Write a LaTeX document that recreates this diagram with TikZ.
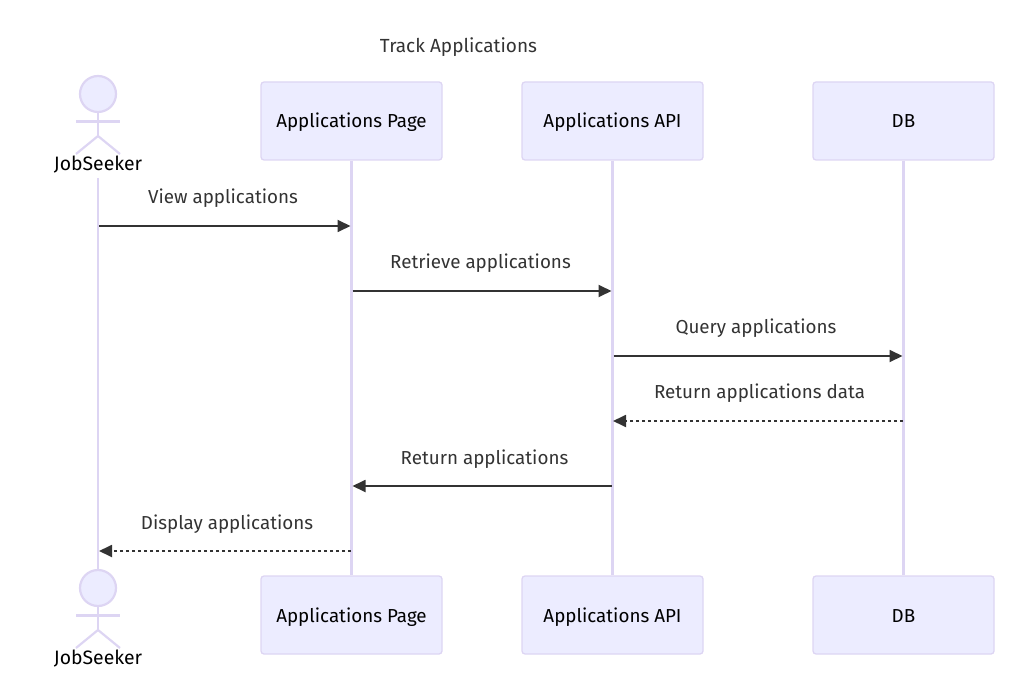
\documentclass[tikz,border=0pt]{standalone}
\usepackage{fontspec}
\setmainfont{Fira Sans}
\usetikzlibrary{arrows.meta}
\pgfdeclarelayer{lifelines}
\pgfsetlayers{lifelines,main}
\definecolor{lav}{HTML}{ECECFF}
\definecolor{lavline}{HTML}{DDD5F3}
\definecolor{ink}{HTML}{333333}
\tikzset{
  x=1pt,y=-1pt,
  box/.style={draw=lavline,fill=lav,line width=1.3pt,rounded corners=3pt,minimum width=181pt,minimum height=78pt,inner sep=0pt,font=\fontsize{18.8}{20}\selectfont,text=black,text height=18pt,text depth=4pt},
  life/.style={draw=lavline,line width=2.2pt},
  stick/.style={draw=lavline,line width=2.2pt},
  head/.style={circle,draw=lavline,fill=lav,line width=2.2pt,minimum size=36pt,inner sep=0pt},
  actorlabel/.style={font=\fontsize{19.4}{20}\selectfont,text=black,inner sep=0pt,text height=18pt,text depth=4pt},
  msg/.style={draw=ink,line width=1.8pt,-{Triangle[length=13pt,width=12pt]}},
  msgd/.style={msg,dash pattern=on 3.2pt off 2.8pt},
  msglabel/.style={font=\fontsize{18.8}{20}\selectfont,text=ink,inner sep=0pt,text height=18pt,text depth=4pt},
}
\begin{document}
\begin{tikzpicture}
\useasboundingbox (0,0) rectangle (1032,692);
\node[msglabel,font=\fontsize{19}{20}\selectfont] (title) at (458.5,45.5) {Track Applications};
\coordinate (ja) at (97.6,178);
\coordinate (jb) at (97.6,570);
\node[box] (pa) at (351.5,121) {Applications Page};
\node[box] (aa) at (612.5,121) {Applications API};
\node[box] (da) at (903.5,121) {DB};
\node[box] (pb) at (351.5,615) {Applications Page};
\node[box] (ab) at (612.5,615) {Applications API};
\node[box] (db) at (903.5,615) {DB};
\begin{pgfonlayer}{lifelines}
\draw[life] (ja) -- (jb);
\draw[life] (pa) -- (pb);
\draw[life] (aa) -- (ab);
\draw[life] (da) -- (db);
\end{pgfonlayer}
% top actor
\node[head] (h1) at (98,94) {};
\draw[stick] (h1.south) -- (98,136);
\draw[stick] (76,121.5) -- (120,121.5);
\draw[stick] (76,154) -- (98,136) -- (120,154);
\node[actorlabel] (l1) at (98,163.5) {JobSeeker};
% bottom actor
\node[head] (h2) at (98,588) {};
\draw[stick] (h2.south) -- (98,630);
\draw[stick] (76,615.5) -- (120,615.5);
\draw[stick] (76,648) -- (98,630) -- (120,648);
\node[actorlabel] (l2) at (98,657.5) {JobSeeker};
% messages
\coordinate (j1) at (99,226); \coordinate (p1) at (350.5,226);
\coordinate (p2) at (352.5,291); \coordinate (a2) at (611.5,291);
\coordinate (a3) at (613.5,356); \coordinate (d3) at (902.5,356);
\coordinate (d4) at (903,421); \coordinate (a4) at (613,421);
\coordinate (a5) at (611.5,486); \coordinate (p5) at (352.5,486);
\coordinate (p6) at (351,551); \coordinate (j6) at (99,551);
\draw[msg] (j1) -- (p1);
\draw[msg] (p2) -- (a2);
\draw[msg] (a3) -- (d3);
\draw[msgd] (d4) -- (a4);
\draw[msg] (a5) -- (p5);
\draw[msgd] (p6) -- (j6);
\node[msglabel] (m1) at (223,197) {View applications};
\node[msglabel] (m2) at (480.5,262) {Retrieve applications};
\node[msglabel] (m3) at (756,326.5) {Query applications};
\node[msglabel] (m4) at (759.5,391.5) {Return applications data};
\node[msglabel] (m5) at (484.5,457.5) {Return applications};
\node[msglabel] (m6) at (227,522.5) {Display applications};
\end{tikzpicture}
\end{document}
